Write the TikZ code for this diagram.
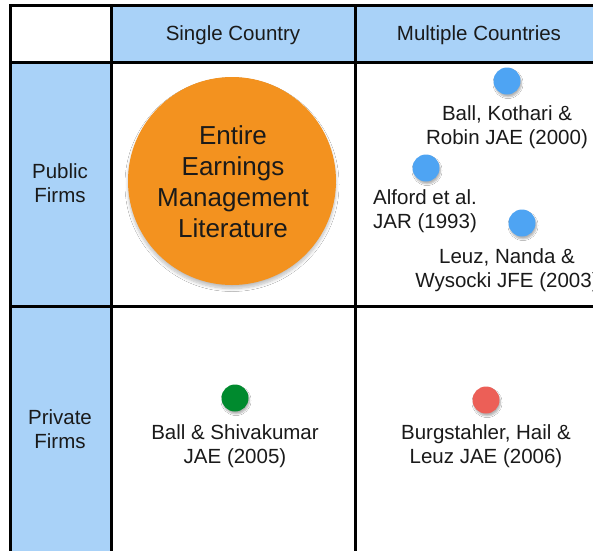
\documentclass[tikz,border=0pt]{standalone}
\usepackage{fontspec}
\setmainfont{Liberation Sans}
\usetikzlibrary{shadows.blur}
\definecolor{headblue}{HTML}{A9D2F8}
\definecolor{litorange}{HTML}{F3921F}
\definecolor{dotblue}{HTML}{4EA4F3}
\definecolor{dotgreen}{HTML}{008A2E}
\definecolor{dotred}{HTML}{EC5F57}
\definecolor{ink}{HTML}{1A1A1A}
\tikzset{
  grid/.style={line width=3pt, draw=black},
  lbl/.style={font=\fontsize{20.5}{24}\selectfont, text=ink, align=center, inner sep=0pt, anchor=base},
  head/.style={font=\fontsize{20.5}{24}\selectfont, text=ink, inner sep=0pt, anchor=base},
  dot/.style={circle, minimum size=27pt, inner sep=0pt,
    blur shadow={shadow xshift=1pt, shadow yshift=-2.5pt, shadow blur steps=6, shadow opacity=30, shadow blur radius=1.5pt}},
}
\begin{document}
\begin{tikzpicture}[x=1pt, y=-1pt]
\useasboundingbox (0,0) rectangle (593,550);
\clip (0,0) rectangle (593,550);
\fill[white] (0,0) rectangle (593,550);
% header and row-label fills
\fill[headblue] (111,5) rectangle (600,62);
\fill[headblue] (10,62) rectangle (111,560);
% grid lines
\draw[grid] (10,560) -- (10,5) -- (600,5);
\draw[grid] (111,5) -- (111,560);
\draw[grid] (355,5) -- (355,560);
\draw[grid] (10,62) -- (600,62);
\draw[grid] (10,306.5) -- (600,306.5);
% column heads (anchored on the text baseline)
\node[head] (single) at (233,40.5) {Single Country};
\node[head] (multi) at (479,40.5) {Multiple Countries};
% row heads (anchored on the last line's baseline)
\node[lbl] (public) at (60,202.5) {Public\\Firms};
\node[lbl] (private) at (60,448) {Private\\Firms};
% big circle and its caption
\node[circle, fill=litorange, minimum size=208pt, inner sep=0pt,
  blur shadow={shadow xshift=0pt, shadow yshift=-3.5pt, shadow blur steps=8, shadow opacity=25, shadow blur radius=3pt}] (lit) at (232,181) {};
\node[font=\fontsize{26}{31}\selectfont, text=ink, align=center, inner sep=0pt, anchor=base] (littext) at (233,237)
  {Entire\\Earnings\\Management\\Literature};
% public firms, multiple countries
\node[dot, fill=dotblue] (bkr) at (507,81) {};
\node[lbl] (bkrt) at (507,144) {Ball, Kothari \&\\Robin JAE (2000)};
\node[dot, fill=dotblue] (alf) at (426,168) {};
\node[lbl, align=left, anchor=base west] (alft) at (373,228) {Alford et al.\\JAR (1993)};
\node[dot, fill=dotblue] (lnw) at (522,223) {};
\node[lbl] (lnwt) at (507,287) {Leuz, Nanda \&\\Wysocki JFE (2003)};
% private firms
\node[dot, fill=dotgreen] (bs) at (235,398) {};
\node[lbl] (bst) at (235,463) {Ball \& Shivakumar\\JAE (2005)};
\node[dot, fill=dotred] (bhl) at (486,400) {};
\node[lbl] (bhlt) at (486,463) {Burgstahler, Hail \&\\Leuz JAE (2006)};
\end{tikzpicture}
\end{document}
